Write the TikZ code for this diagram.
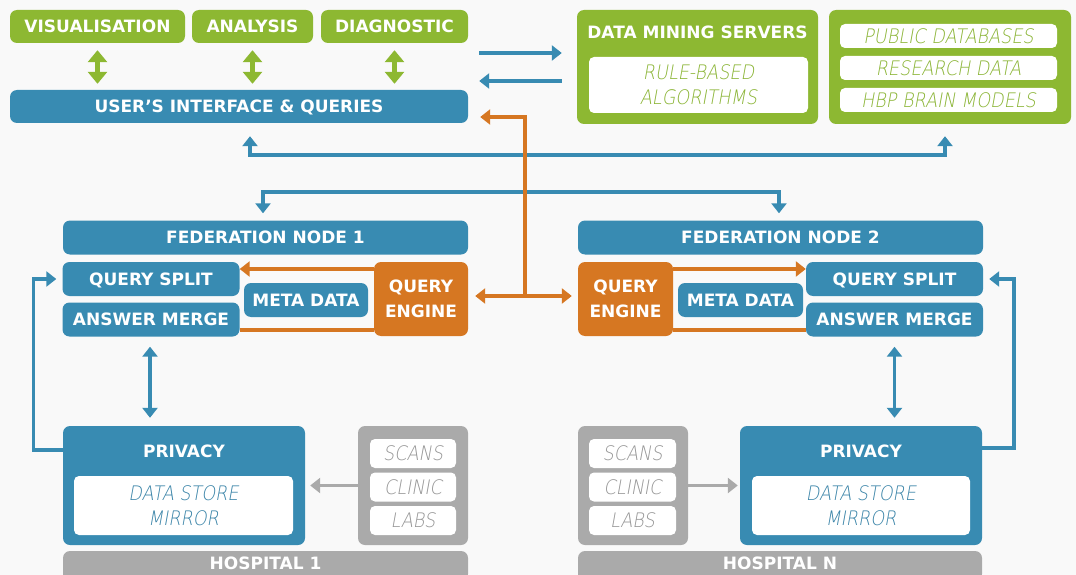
\documentclass[tikz,border=0pt]{standalone}
\usepackage{fontspec}
\setmainfont{DejaVu Sans}
\newfontfamily\thinfont[FakeSlant=0.18, FakeStretch=0.88]{DejaVu Sans ExtraLight}
\usetikzlibrary{arrows.meta,positioning,calc}
\definecolor{hbpGreen}{RGB}{141,184,50}
\definecolor{hbpGreenText}{RGB}{138,180,52}
\definecolor{hbpBlue}{RGB}{56,139,178}
\definecolor{hbpBlueText}{RGB}{58,132,168}
\definecolor{hbpOrange}{RGB}{214,119,34}
\definecolor{hbpGray}{RGB}{170,170,170}
\definecolor{hbpGrayText}{RGB}{150,150,150}
\definecolor{hbpBack}{RGB}{249,249,249}

\begin{document}
\begin{tikzpicture}[x=1pt,y=-1pt,
	every node/.style={inner sep=0pt},
	>={Triangle[width=15pt,length=10pt]},
	caps/.style={text height=12.4pt, text depth=0pt},
	thincaps/.style={text height=14.6pt, text depth=0pt},
	box/.style={rounded corners=7pt, minimum height=33pt,
		font=\bfseries\fontsize{17}{25}\selectfont, text=white},
	greenbox/.style={box, caps, fill=hbpGreen},
	bluebox/.style={box, caps, fill=hbpBlue},
	orangebox/.style={box, fill=hbpOrange, align=center},
	graybox/.style={box, caps, fill=hbpGray},
	hospitalbar/.style={graybox, minimum height=30pt, text depth=6pt},
	boxtitle/.style={caps, text=white, font=\bfseries\fontsize{17}{25}\selectfont},
	whitebox/.style={rounded corners=5pt, fill=white,
		font=\thinfont\fontsize{20}{25}\selectfont},
	gwhite/.style={whitebox, text=hbpGreenText},
	bwhite/.style={whitebox, text=hbpBlueText},
	kwhite/.style={whitebox, thincaps, text=hbpGrayText},
	bluearrow/.style={draw=hbpBlue, line width=3.5pt, ->},
	orangearrow/.style={draw=hbpOrange, line width=3.5pt, ->},
	grayarrow/.style={draw=hbpGray, line width=3.5pt, ->},
	greenarrow/.style={draw=hbpGreen, line width=5pt,
		{Triangle[width=19pt,length=12pt]}-{Triangle[width=19pt,length=12pt]}},
	]
	% canvas
	\fill[hbpBack] (0,0) rectangle (1076,575);
	\useasboundingbox (0,0) rectangle (1076,575);
	
	% top row: tools and interface
	\node[greenbox, minimum width=175pt] (vis) at (97.5,26.5) {VISUALISATION};
	\node[greenbox, minimum width=121pt] (ana) at (252.5,26.5) {ANALYSIS};
	\node[greenbox, minimum width=147pt] (dia) at (394.5,26.5) {DIAGNOSTIC};
	\node[bluebox, minimum width=458pt] (ui) at (239,106.5) {USER'S INTERFACE \& QUERIES};
	
	% data mining servers
	\node[greenbox, minimum width=241pt, minimum height=114pt] (dm) at (697.5,67) {};
	\node[boxtitle] (dmtitle) at (697.5,32) {DATA MINING SERVERS};
	\node[gwhite, minimum width=219pt, minimum height=56pt, align=center] (rules) at (698.5,85) {RULE-BASED\\ALGORITHMS};
	
	% data sources
	\node[greenbox, minimum width=242pt, minimum height=114pt] (src) at (950,67) {};
	\node[gwhite, thincaps, minimum width=217pt, minimum height=24pt] (pub) at (948.5,36) {PUBLIC DATABASES};
	\node[gwhite, thincaps, minimum width=217pt, minimum height=24pt] (res) at (948.5,68) {RESEARCH DATA};
	\node[gwhite, thincaps, minimum width=217pt, minimum height=24pt] (hbp) at (948.5,100) {HBP BRAIN MODELS};
	
	% federation node 1
	\node[bluebox, minimum width=405pt, minimum height=34pt] (fn1) at (265.5,237.5) {FEDERATION NODE 1};
	\node[bluebox, minimum width=177pt, minimum height=34pt] (qs1) at (151,279) {QUERY SPLIT};
	\node[bluebox, minimum width=177pt, minimum height=34pt] (am1) at (151,319.5) {ANSWER MERGE};
	\node[bluebox, minimum width=124pt, minimum height=34pt] (md1) at (306,300) {META DATA};
	\node[orangebox, minimum width=94pt, minimum height=74pt] (qe1) at (421,299) {QUERY\\ENGINE};
	
	% federation node 2
	\node[bluebox, minimum width=405pt, minimum height=34pt] (fn2) at (780.5,237.5) {FEDERATION NODE 2};
	\node[orangebox, minimum width=95pt, minimum height=74pt] (qe2) at (625.5,299) {QUERY\\ENGINE};
	\node[bluebox, minimum width=125pt, minimum height=34pt] (md2) at (740.5,300) {META DATA};
	\node[bluebox, minimum width=177pt, minimum height=34pt] (qs2) at (894.5,279) {QUERY SPLIT};
	\node[bluebox, minimum width=177pt, minimum height=34pt] (am2) at (894.5,319.5) {ANSWER MERGE};
	
	% hospital 1
	\node[bluebox, minimum width=242pt, minimum height=119pt] (pr1) at (184,485.5) {};
	\node[boxtitle] (pr1title) at (184,451) {PRIVACY};
	\node[bwhite, minimum width=219pt, minimum height=59pt, align=center] (ds1) at (183.5,505.5) {DATA STORE\\MIRROR};
	\node[graybox, minimum width=110pt, minimum height=119pt] (gr1) at (413,485.5) {};
	\node[kwhite, minimum width=86pt, minimum height=29pt] (sc1) at (413,453.5) {SCANS};
	\node[kwhite, minimum width=86pt, minimum height=29pt] (cl1) at (413,487) {CLINIC};
	\node[kwhite, minimum width=86pt, minimum height=29pt] (lb1) at (413,520.5) {LABS};
	\node[hospitalbar, minimum width=405pt] (h1) at (265.5,566) {HOSPITAL 1};
	
	% hospital N
	\node[bluebox, minimum width=242pt, minimum height=119pt] (prN) at (861,485.5) {};
	\node[boxtitle] (prNtitle) at (861,451) {PRIVACY};
	\node[bwhite, minimum width=218pt, minimum height=59pt, align=center] (dsN) at (861,505.5) {DATA STORE\\MIRROR};
	\node[graybox, minimum width=110pt, minimum height=119pt] (grN) at (633,485.5) {};
	\node[kwhite, minimum width=87pt, minimum height=29pt] (scN) at (632.5,453.5) {SCANS};
	\node[kwhite, minimum width=87pt, minimum height=29pt] (clN) at (632.5,487) {CLINIC};
	\node[kwhite, minimum width=87pt, minimum height=29pt] (lbN) at (632.5,520.5) {LABS};
	\node[hospitalbar, minimum width=404pt] (hN) at (780,566) {HOSPITAL N};
	
	% tools <-> interface
	\draw[greenarrow, shorten <=7pt, shorten >=6pt] (vis.south) -- (vis.south |- ui.north);
	\draw[greenarrow, shorten <=7pt, shorten >=6pt] (ana.south) -- (ana.south |- ui.north);
	\draw[greenarrow, shorten <=7pt, shorten >=6pt] (dia.south) -- (dia.south |- ui.north);
	
	% interface <-> data mining
	\coordinate (toDM) at (0,53);
	\coordinate (fromDM) at (0,81);
	\draw[bluearrow, shorten <=11pt, shorten >=15pt] (dia.east |- toDM) -- (dm.west |- toDM);
	\draw[bluearrow, shorten <=15pt, shorten >=11pt] (dm.west |- fromDM) -- (dia.east |- fromDM);
	
	% interface <-> data sources
	\coordinate (busTop) at (600,155);
	\draw[bluearrow, <->] ([xshift=11pt,yshift=-13pt]ui.south) |- (busTop) -| ([xshift=-5pt,yshift=-12pt]src.south);
	
	% queries down to both federation nodes
	\coordinate (busMid) at (520,192);
	\draw[bluearrow, <->, shorten <=7pt, shorten >=7pt] ([xshift=-2.5pt]fn1.north) |- (busMid) -| ([xshift=-1.5pt]fn2.north);
	
	% query engines
	\coordinate (jn) at (525,296);
	\draw[orangearrow, <->, shorten <=7pt, shorten >=6pt] (qe1.east |- jn) -- (qe2.west |- jn);
	\draw[orangearrow, shorten >=12pt] (jn) |- ([yshift=-10.5pt]ui.east);
	\draw[orangearrow] ([yshift=30pt]qe1.west) -- ([yshift=30pt]qe1.west -| qs1.east);
	\draw[draw=hbpOrange, line width=3.5pt] ([yshift=-31pt]qe1.west) -- ([yshift=-31pt]qe1.west -| am1.east);
	\draw[orangearrow] ([yshift=30pt]qe2.east) -- ([yshift=30pt]qe2.east -| qs2.west);
	\draw[draw=hbpOrange, line width=3.5pt] ([yshift=-31pt]qe2.east) -- ([yshift=-31pt]qe2.east -| am2.west);
	
	% merge <-> privacy
	\draw[bluearrow, <->, shorten <=10pt, shorten >=8pt] ([xshift=-1pt]am1.south) -- ([xshift=-1pt]am1.south |- pr1.north);
	\draw[bluearrow, <->, shorten <=10pt, shorten >=8pt] (am2.south) -- (am2.south |- prN.north);
	
	% privacy back to query split
	\draw[bluearrow, shorten >=6pt] ([yshift=35.5pt]pr1.west) -| ([xshift=-29pt]qs1.west) -- (qs1.west);
	\draw[bluearrow, shorten >=6pt] ([yshift=37.5pt]prN.east) -| ([xshift=31pt]qs2.east) -- (qs2.east);
	
	% hospital data into the mirror
	\draw[grayarrow, shorten >=5pt] (gr1.west) -- (pr1.east);
	\draw[grayarrow, shorten >=2pt] (grN.east) -- (prN.west);
\end{tikzpicture}
\end{document}
